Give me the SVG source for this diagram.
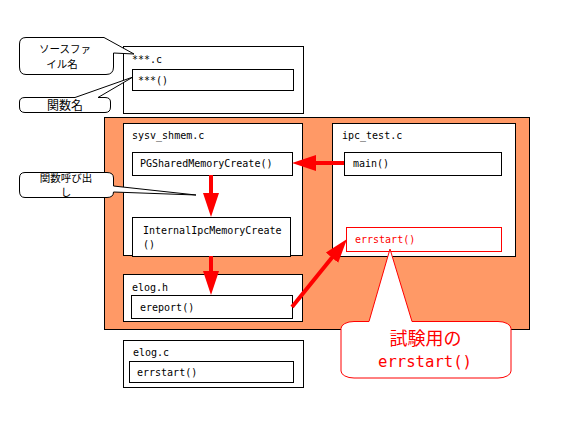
<svg xmlns="http://www.w3.org/2000/svg" width="575" height="432" viewBox="0 0 575 432">
<defs>
<style>
.box{fill:#fff;stroke:#000;stroke-width:1}
.rbox{fill:#fff;stroke:#f00;stroke-width:1}
.t{font-family:"DejaVu Sans Mono","Liberation Mono",monospace;font-size:10px;fill:#000}
.tr{font-family:"DejaVu Sans Mono","Liberation Mono",monospace;font-size:10px;fill:#f00}
.jp{font-family:"Noto Sans CJK JP","Noto Sans",sans-serif;font-size:10.5px;fill:#000;text-anchor:middle}
.co{fill:#fff;stroke:#000;stroke-width:1}
.arr{stroke:#f00;stroke-width:4;fill:none;marker-end:url(#ah)}
</style>
<marker id="ah" markerUnits="userSpaceOnUse" markerWidth="26" markerHeight="18" refX="12" refY="8" orient="auto">
<path d="M0,0 L24,8 L0,16 Z" fill="#f00"/>
</marker>
</defs>
<rect width="575" height="432" fill="#fff"/>

<g id="legend-file">
<rect class="box" x="123.5" y="46.5" width="180" height="67"/>
<text class="t" x="132" y="63">***.c</text>
</g>
<g id="legend-func">
<rect class="box" x="132.5" y="69.5" width="161" height="21"/>
<text class="t" x="138" y="84">***()</text>
</g>

<g id="container">
<rect x="104.5" y="117.5" width="425" height="212" fill="#FF9966" stroke="#000" stroke-width="1"/>
</g>

<g id="sysv_shmem">
<rect class="box" x="123.5" y="123.5" width="179" height="132"/>
<text class="t" x="132" y="139">sysv_shmem.c</text>
</g>
<g id="PGSharedMemoryCreate">
<rect class="box" x="132.5" y="152.5" width="160" height="23"/>
<text class="t" x="140" y="167">PGSharedMemoryCreate()</text>
</g>
<g id="InternalIpcMemoryCreate">
<rect class="box" x="132.5" y="217.5" width="158" height="39"/>
<text class="t" x="143" y="234">InternalIpcMemoryCreate</text>
<text class="t" x="143" y="248">()</text>
</g>

<g id="elog_h">
<rect class="box" x="123.5" y="274.5" width="179" height="47"/>
<text class="t" x="132" y="291">elog.h</text>
</g>
<g id="ereport">
<rect class="box" x="131.5" y="295.5" width="161" height="23"/>
<text class="t" x="140" y="311">ereport()</text>
</g>

<g id="ipc_test">
<rect class="box" x="332.5" y="123.5" width="183" height="133"/>
<text class="t" x="342" y="139">ipc_test.c</text>
</g>
<g id="main">
<rect class="box" x="344.5" y="152.5" width="157" height="23"/>
<text class="t" x="353" y="167">main()</text>
</g>
<g id="errstart_test">
<rect class="rbox" x="346.5" y="227.5" width="155" height="24"/>
<text class="tr" x="355" y="243">errstart()</text>
</g>

<g id="elog_c">
<rect class="box" x="123.5" y="340.5" width="180" height="47"/>
<text class="t" x="133" y="356">elog.c</text>
</g>
<g id="errstart">
<rect class="box" x="129.5" y="361.5" width="164" height="21"/>
<text class="t" x="137" y="376">errstart()</text>
</g>

<g id="connectors">
<line class="arr" x1="344" y1="163" x2="304" y2="163"/>
<line class="arr" x1="211" y1="175" x2="211" y2="205"/>
<line class="arr" x1="211" y1="256" x2="211" y2="283"/>
<line class="arr" x1="292" y1="307" x2="339.5" y2="248.3"/>
</g>

<g id="callout-source">
<path class="co" d="M26,37.5 L104,37.5 L134,54 L113.5,53 L113.5,67 Q113.5,74.5 106,74.5 L26,74.5 Q19.5,74.5 19.5,67 L19.5,44 Q19.5,37.5 26,37.5 Z"/>
<text class="jp" x="65" y="53">ソースファ</text>
<text class="jp" x="62" y="68">イル名</text>
</g>
<g id="callout-func">
<path class="co" d="M25,97.5 L75,97.5 L133,77 L98,97.5 L105,97.5 Q110.5,97.5 110.5,102 L110.5,107 Q110.5,112.5 105,112.5 L25,112.5 Q19.5,112.5 19.5,107 L19.5,102 Q19.5,97.5 25,97.5 Z"/>
<text class="jp" x="65" y="109.5" style="font-size:12px">関数名</text>
</g>
<g id="callout-call">
<path class="co" d="M25,172.5 L107,172.5 Q113.5,172.5 113.5,178 L113.5,186 L196,195 L113.5,192 Q113.5,197.5 107,197.5 L25,197.5 Q19.5,197.5 19.5,191 L19.5,178 Q19.5,172.5 25,172.5 Z"/>
<text class="jp" x="66" y="182">関数呼び出</text>
<text class="jp" x="66" y="196">し</text>
</g>
<g id="callout-test">
<path d="M354,321.5 L369,321.5 L390,249 L412,321.5 L498,321.5 A13,7 0 0 1 511,328.5 L511,371 A13,7 0 0 1 498,378 L354,378 A13,7 0 0 1 341,371 L341,328.5 A13,7 0 0 1 354,321.5 Z" fill="#fff" stroke="#f00" stroke-width="1"/>
<text x="425.5" y="345" style="font-family:'Noto Sans CJK JP',sans-serif;font-size:18px;fill:#f00;text-anchor:middle">試験用の</text>
<text x="425" y="367" style="font-family:'DejaVu Sans Mono','Liberation Mono',monospace;font-size:15.6px;fill:#f00;text-anchor:middle">errstart()</text>
</g>
</svg>
